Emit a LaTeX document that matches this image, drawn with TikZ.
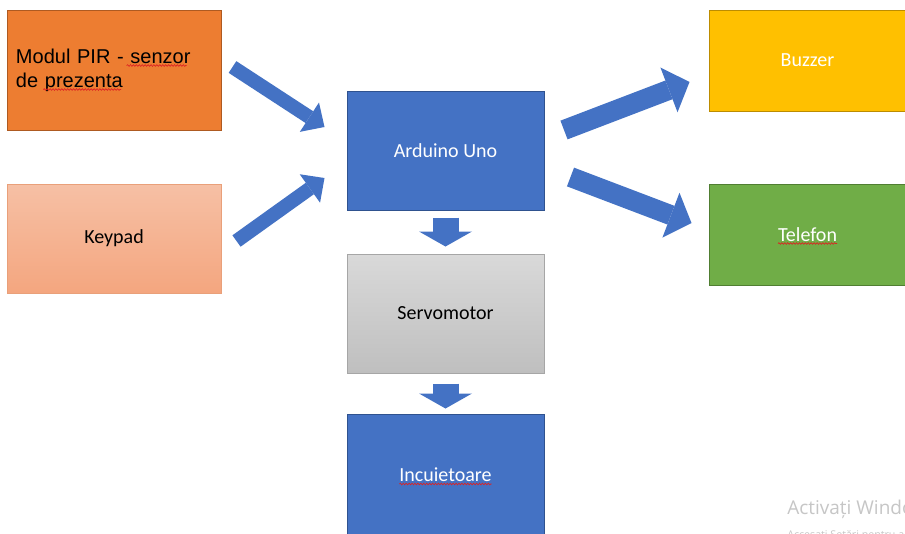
\documentclass[tikz,border=0pt]{standalone}
\usepackage{fontspec}
\setmainfont{Carlito}
\newfontfamily\arialfont{Liberation Sans}
\newfontfamily\winfont{Open Sans}
\usepackage{xcolor}
\usepackage{tikz}
\usetikzlibrary{arrows.meta, calc, positioning, decorations.pathmorphing}

\definecolor{pirorange}{HTML}{ED7D31}
\definecolor{pirborder}{HTML}{AE5A21}
\definecolor{keytop}{HTML}{F6C0A5}
\definecolor{keybottom}{HTML}{F4A67F}
\definecolor{keyborder}{HTML}{E9A07A}
\definecolor{ardblue}{HTML}{4472C4}
\definecolor{ardborder}{HTML}{2F528F}
\definecolor{servotop}{HTML}{D9D9D9}
\definecolor{servobottom}{HTML}{BFBFBF}
\definecolor{servoborder}{HTML}{A6A6A6}
\definecolor{buzzyellow}{HTML}{FFC000}
\definecolor{buzzborder}{HTML}{BC8C00}
\definecolor{telgreen}{HTML}{70AD47}
\definecolor{telborder}{HTML}{507E32}
\definecolor{spellred}{HTML}{DD2222}
\definecolor{wmgray}{HTML}{C6C6C6}

\newcommand{\boxfont}{\fontsize{15}{18}\selectfont}
\newcommand{\pirfont}{\arialfont\fontsize{15}{18}\selectfont}
\newlength{\pirleadw}
\newlength{\senzorw}
\newlength{\deleadw}
\newlength{\prezw}
\newlength{\telw}
\newlength{\incuw}

\begin{document}
\settowidth{\pirleadw}{\pirfont Modul PIR -\ }
\settowidth{\senzorw}{\pirfont senzor}
\settowidth{\deleadw}{\pirfont de\ }
\settowidth{\prezw}{\pirfont prezenta}
\settowidth{\telw}{\boxfont Telefon}
\settowidth{\incuw}{\boxfont Incuietoare}
\begin{tikzpicture}[x=0.75pt, y=-0.75pt,
    box/.style={draw, line width=0.75pt, minimum width=147.75pt, minimum height=89.25pt, inner sep=0pt, font=\boxfont},
    thinarrow/.style={draw=ardblue, line width=10.5pt, -{Triangle[length=13.5pt, width=26.25pt, line width=0pt]}},
    widearrow/.style={draw=ardblue, line width=15pt, -{Triangle[length=16.5pt, width=36pt, line width=0pt]}},
    downarrow/.style={draw=ardblue, line width=19.5pt, -{Triangle[length=11.25pt, width=39.75pt, line width=0pt]}},
    spell/.style={spellred, line width=0.5pt, decorate, decoration={snake, amplitude=0.6pt, segment length=2.2pt}},
    wmark/.style={inner sep=0pt, text=wmgray}]
    \useasboundingbox (0,0) rectangle (905,533);
    \clip (0,0) rectangle (905,533);
    \fill[white] (0,0) rectangle (905,533);

    \node[box, fill=pirorange, draw=pirborder, minimum width=160.5pt, minimum height=90pt, text width=147pt, align=left, font=\pirfont] (pir) at (114,70) {Modul PIR - senzor\\de prezenta};
    \node[box, top color=keytop, bottom color=keybottom, draw=keyborder, minimum width=160.5pt, minimum height=81.75pt, below=39.75pt of pir] (keypad) {Keypad};

    \node[box, fill=ardblue, draw=ardborder, text=white] (ard) at (445.5,150.5) {Arduino Uno};
    \node[box, top color=servotop, bottom color=servobottom, draw=servoborder, below=32.25pt of ard] (servo) {Servomotor};
    \node[box, fill=ardblue, draw=ardborder, text=white, minimum height=91.5pt, below=30pt of servo] (incu) {Incuietoare};

    \node[box, fill=buzzyellow, draw=buzzborder, text=white, minimum height=75.75pt] (buzzer) at (807.5,60.5) {Buzzer};
    \node[box, fill=telgreen, draw=telborder, text=white, minimum height=75.75pt, below=54pt of buzzer] (telefon) {Telefon};

    \draw[spell] ($(pir.north west)+(9,56)+(\pirleadw,0)$) -- ++(\senzorw,0);
    \draw[spell] ($(pir.north west)+(9,80)+(\deleadw,0)$) -- ++(\prezw,0);
    \draw[spell] ($(telefon.center)+(0,9)+(-0.5\telw,0)$) -- ++(\telw,0);
    \draw[spell] ($(incu.center)+(0,9)+(-0.5\incuw,0)$) -- ++(\incuw,0);

    \draw[thinarrow] ($(pir.east)+(11,-3)$) -- ($(ard.west)+(-22,-23.5)$);
    \draw[thinarrow] ($(keypad.east)+(15,2.5)$) -- ($(ard.west)+(-22,27.5)$);
    \draw[widearrow] ($(ard.east)+(19.5,-20.5)$) -- ($(buzzer.west)+(-19,21.5)$);
    \draw[widearrow] ($(ard.east)+(26,26.5)$) -- ($(telefon.west)+(-17,-11.5)$);
    \draw[downarrow, shorten <=5.25pt, shorten >=5.25pt] (ard) -- (servo);
    \draw[downarrow, shorten <=7.5pt, shorten >=3.75pt] (servo) -- (incu);

    \node[wmark, anchor=base west, font=\winfont\fontsize{14.25}{17}\selectfont] (wm1) at (787,514) {Activați Windows};
    \node[wmark, anchor=base west, font=\winfont\fontsize{8}{10}\selectfont] (wm2) at (787,538) {Accesați Setări pentru a activa Windows.};
\end{tikzpicture}
\end{document}
